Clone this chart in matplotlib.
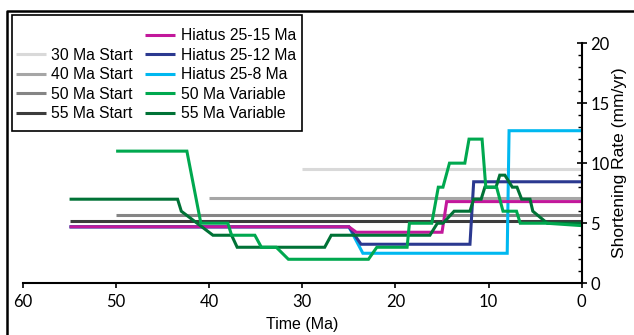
import matplotlib.pyplot as plt
from matplotlib.lines import Line2D
from matplotlib.patches import Rectangle
from matplotlib.ticker import MultipleLocator

plt.rcParams['font.family'] = ['Liberation Sans', 'DejaVu Sans']

# shortening rate histories (time in Ma before present, rate in mm/yr)
start30_t = [30, 0]
start30_v = [9.5, 9.5]
start40_t = [40, 0]
start40_v = [7.1, 7.1]
start50_t = [50, 0]
start50_v = [5.7, 5.7]
start55_t = [55, 0]
start55_v = [5.2, 5.2]

hiatus15_t = [55, 25, 24.2, 15.0, 14.5, 0]
hiatus15_v = [4.7, 4.7, 4.25, 4.25, 6.8, 6.8]
hiatus12_t = [55, 25, 23.7, 12.0, 11.6, 0]
hiatus12_v = [4.7, 4.7, 3.25, 3.25, 8.45, 8.45]
hiatus8_t = [55, 25, 23.5, 8.0, 7.8, 0]
hiatus8_v = [4.7, 4.7, 2.5, 2.5, 12.7, 12.7]

var50_t = [50, 42.4, 40.9, 38.0, 37.6, 35.1, 34.4, 32.8, 31.5, 22.9, 22.0,
           18.75, 18.5, 16.1, 15.4, 14.9, 14.2, 12.55, 12.1, 10.7, 10.3,
           9.14, 8.45, 7.0, 6.6, 3.8, 0]
var50_v = [11, 11, 5, 5, 4, 4, 3, 3, 2, 2, 3,
           3, 5, 5, 8, 8, 10, 10, 12, 12, 8,
           8, 6, 6, 5, 5, 4.8]

var55_t = [55, 43.4, 43.0, 41.3, 39.6, 37.6, 37.0, 27.6, 26.9, 16.3, 15.5,
           14.9, 13.7, 12.0, 11.6, 10.8, 10.4, 9.2, 8.8, 8.25, 7.45, 6.95,
           6.45, 5.55, 5.25, 3.7, 0]
var55_v = [7, 7, 6, 5, 4, 4, 3, 3, 4, 4, 5,
           5, 6, 6, 7, 7, 8, 8, 9, 9, 8, 8,
           7, 7, 6, 5, 5]

W, H = 634, 335
fig = plt.figure(figsize=(W / 100, H / 100), dpi=100)
ax = fig.add_axes([23 / W, 1 - 283.3 / H, (581.7 - 23) / W, (283.3 - 43) / H])

lw = 2.2
kw = dict(lw=lw, solid_capstyle='butt', solid_joinstyle='miter')
l30, = ax.plot(start30_t, start30_v, color='#d9d9d9', label='30 Ma Start', **kw)
l40, = ax.plot(start40_t, start40_v, color='#a6a6a6', label='40 Ma Start', **kw)
l50, = ax.plot(start50_t, start50_v, color='#858585', label='50 Ma Start', **kw)
l55, = ax.plot(start55_t, start55_v, color='#3c3c3c', label='55 Ma Start', **kw)
h8, = ax.plot(hiatus8_t, hiatus8_v, color='#00b8f0', label='Hiatus 25-8 Ma', **kw)
h12, = ax.plot(hiatus12_t, hiatus12_v, color='#2b3990', label='Hiatus 25-12 Ma', **kw)
h15, = ax.plot(hiatus15_t, hiatus15_v, color='#c2189b', label='Hiatus 25-15 Ma', **kw)
v55, = ax.plot(var55_t, var55_v, color='#007236', label='55 Ma Variable', **kw)
v50, = ax.plot(var50_t, var50_v, color='#00a84f', label='50 Ma Variable', **kw)

ax.set_xlim(60, 0)
ax.set_ylim(0, 20)
ax.spines['top'].set_visible(False)
ax.spines['left'].set_visible(False)
for s in ('bottom', 'right'):
    ax.spines[s].set_linewidth(1.5)

ax.set_xticks(range(60, -1, -10))
ax.yaxis.tick_right()
ax.yaxis.set_label_position('right')
ax.yaxis.set_major_locator(MultipleLocator(5))
ax.yaxis.set_minor_locator(MultipleLocator(1))
tick_font = ['Lato', 'DejaVu Sans']
ax.tick_params(axis='x', direction='out', length=3.5, width=1.2, pad=4,
               labelsize=12, labelfontfamily=tick_font)
ax.tick_params(axis='y', which='major', direction='inout', length=6.5, width=1.2,
               pad=3, labelsize=12, labelfontfamily=tick_font)
ax.tick_params(axis='y', which='minor', direction='in', length=3, width=1)

ax.set_xlabel('Time (Ma)', fontsize=11.5, labelpad=5)
ax.set_ylabel('Shortening Rate (mm/yr)', fontsize=12.5, labelpad=1.5)

blank = Line2D([], [], color='none', label=' ')
handles = [blank, l30, l40, l50, l55, h15, h12, h8, v50, v55]
fig.legend(handles=handles, labels=[h.get_label() for h in handles], ncol=2,
           loc='upper left', bbox_to_anchor=(16 / W, 1 - 28.5 / H),
           frameon=False, fontsize=11.3, handlelength=1.9, handletextpad=0.35,
           columnspacing=0.8, labelspacing=0.28, borderpad=0, borderaxespad=0)

# legend box and outer chart border
fig.add_artist(Rectangle((11.5 / W, 1 - 131 / H), (301.5 - 11.5) / W, (131 - 15) / H,
                         transform=fig.transFigure, fill=False, ec='black', lw=1.2))
fig.add_artist(Line2D([6.5 / W, 6.5 / W, 1], [0, 1 - 10.5 / H, 1 - 10.5 / H],
                      transform=fig.transFigure, color='black', lw=1.8))

fig.savefig('out.png', dpi=100)
